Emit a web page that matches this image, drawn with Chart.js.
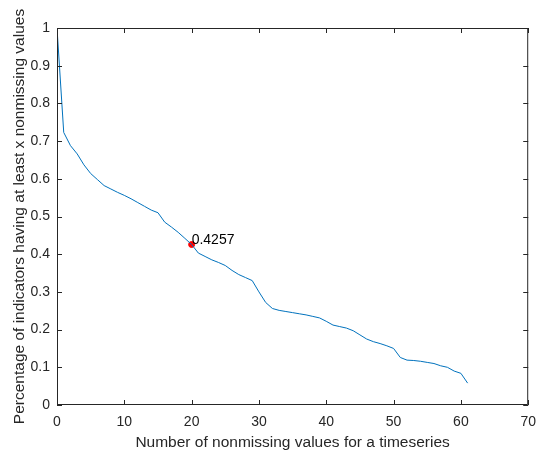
<!DOCTYPE html>
<html>
<head>
<meta charset="utf-8">
<script src="https://cdn.jsdelivr.net/npm/chart.js@4.4.0/dist/chart.umd.min.js"></script>
<style>
  html, body { margin: 0; padding: 0; background: #fff; }
  #wrap { width: 545px; height: 457px; }
</style>
</head>
<body>
<div id="wrap"><canvas id="grafico"></canvas></div>
<script>
// dados
var nValores = [0,1,2,3,4,5,6,7,8,9,10,11,12,13,14,15,16,17,18,19,20,21,22,23,24,25,26,27,28,29,30,31,32,33,34,35,36,37,38,39,40,41,42,43,44,45,46,47,48,49,50,51,52,53,54,55,56,57,58,59,60,61]
var percentual = [1,0.723,0.688,0.666,0.637,0.614,0.598,0.582,0.573,0.564,0.556,0.547,0.537,0.527,0.517,0.510,0.485,0.472,0.458,0.442,0.4257,0.403,0.394,0.385,0.378,0.370,0.357,0.346,0.338,0.330,0.300,0.272,0.256,0.251,0.248,0.245,0.242,0.239,0.235,0.231,0.222,0.212,0.208,0.204,0.197,0.186,0.175,0.168,0.163,0.157,0.150,0.126,0.119,0.118,0.116,0.113,0.110,0.104,0.100,0.090,0.084,0.058]
var destaqueX = [20]
var destaqueY = [0.4257]
var xTicks = [0,10,20,30,40,50,60,70]
var yTicks = [0,0.1,0.2,0.3,0.4,0.5,0.6,0.7,0.8,0.9,1]

var fonte = "'Liberation Sans', Arial, sans-serif"
var corEixo = '#262626'

// caixa em volta do grafico e ticks para dentro (estilo matlab)
var caixa = {
  id: 'caixa',
  afterDraw: function(chart) {
    var ctx = chart.ctx
    var a = chart.chartArea
    var sx = chart.scales.x, sy = chart.scales.y
    ctx.save()
    ctx.strokeStyle = corEixo
    ctx.lineWidth = 1
    ctx.beginPath()
    ctx.rect(a.left + 0.5, a.top + 0.5, a.right - a.left - 1, a.bottom - a.top - 1)
    xTicks.forEach(function(v) {
      var p = Math.round(sx.getPixelForValue(v)) + 0.5
      ctx.moveTo(p, a.bottom); ctx.lineTo(p, a.bottom - 5)
      ctx.moveTo(p, a.top); ctx.lineTo(p, a.top + 5)
    })
    yTicks.forEach(function(v) {
      var p = Math.round(sy.getPixelForValue(v)) + 0.5
      ctx.moveTo(a.left, p); ctx.lineTo(a.left + 5, p)
      ctx.moveTo(a.right, p); ctx.lineTo(a.right - 5, p)
    })
    ctx.stroke()
    // rotulo do ponto
    ctx.fillStyle = '#000'
    ctx.font = '14px ' + fonte
    ctx.textAlign = 'left'
    ctx.textBaseline = 'alphabetic'
    ctx.fillText(destaqueY[0].toString(), sx.getPixelForValue(destaqueX[0]), sy.getPixelForValue(destaqueY[0]) - 1)
    ctx.restore()
  }
}

var pontos = nValores.map(function(v, i) { return { x: v, y: percentual[i] } })
var pontosDestaque = destaqueX.map(function(v, i) { return { x: v, y: destaqueY[i] } })

new Chart(document.getElementById('grafico'), {
  type: 'line',
  data: {
    datasets: [
      {
        data: pontos,
        borderColor: '#0072BD',
        borderWidth: 1,
        pointRadius: 0,
        tension: 0
      },
      {
        data: pontosDestaque,
        showLine: false,
        pointRadius: 3,
        pointBackgroundColor: '#ff0000',
        pointBorderColor: '#ff0000'
      }
    ]
  },
  options: {
    responsive: true,
    maintainAspectRatio: false,
    animation: false,
    layout: { padding: { top: 28, right: 10, left: 0, bottom: 0 } },
    plugins: { legend: { display: false }, tooltip: { enabled: false } },
    scales: {
      x: {
        type: 'linear',
        min: 0, max: 70,
        afterFit: function(s) { s.height = 52 },
        afterBuildTicks: function(s) { s.ticks = xTicks.map(function(v) { return { value: v } }) },
        grid: { display: false, drawTicks: false },
        border: { display: false },
        ticks: { color: corEixo, padding: 9, font: { family: fonte, size: 14 }, maxRotation: 0 },
        title: { display: true, text: 'Number of nonmissing values for a timeseries', color: corEixo, font: { family: fonte, size: 15.5 }, padding: { top: 2, bottom: 5 } }
      },
      y: {
        min: 0, max: 1,
        afterFit: function(s) { s.width = 57 },
        afterBuildTicks: function(s) { s.ticks = yTicks.map(function(v) { return { value: v } }) },
        grid: { display: false, drawTicks: false },
        border: { display: false },
        ticks: { color: corEixo, padding: 7, font: { family: fonte, size: 14 }, callback: function(v) { return +v.toFixed(1) } },
        title: { display: true, text: 'Percentage of indicators having at least x nonmissing values', color: corEixo, font: { family: fonte, size: 15.5 }, padding: { top: 10, bottom: 2 } }
      }
    }
  },
  plugins: [caixa]
})
</script>
</body>
</html>
